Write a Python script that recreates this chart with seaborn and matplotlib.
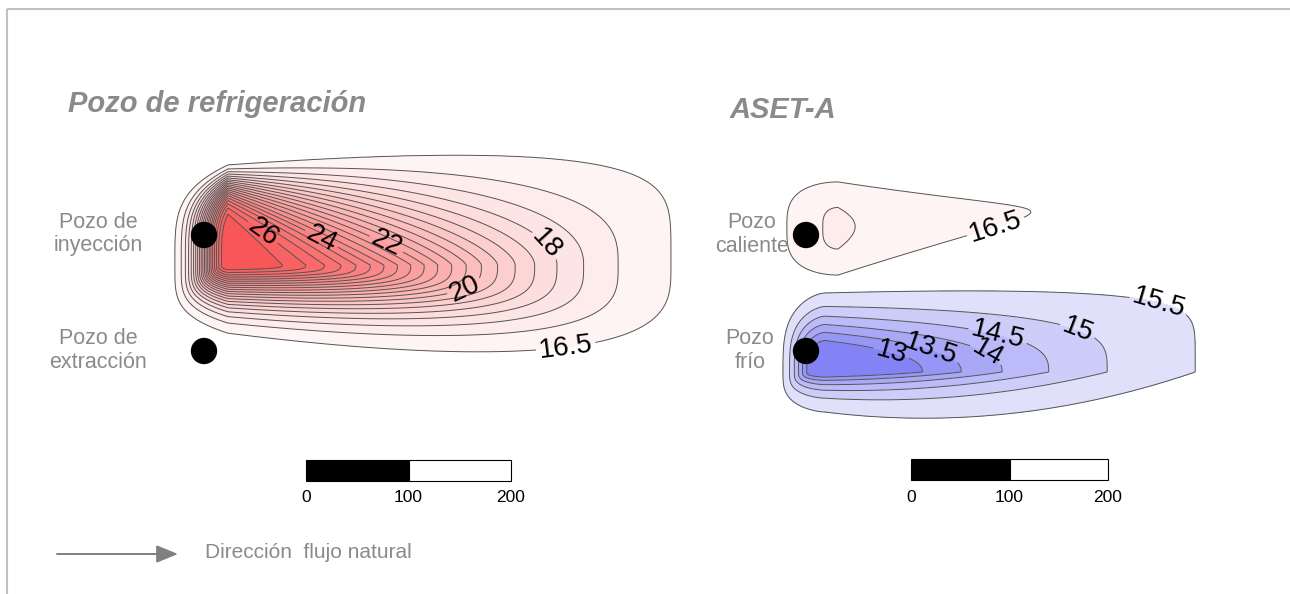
import numpy as np
import matplotlib
matplotlib.use('Agg')
import matplotlib.pyplot as plt
from matplotlib.patches import Rectangle
import seaborn as sns

# ---- data (map drawn in pixel space of the original figure) ----
background_temp = 16.0

hot_levels = [16.5, 17, 17.5, 18, 18.5, 19, 19.5, 20, 20.5, 21, 21.5,
              22, 22.5, 23, 23.5, 24, 24.5, 25, 25.5, 26, 26.5]
hot_peak = 27.0
hot_label_levels = [16.5, 18, 20, 22, 24, 26]
hot_label_xy = [(565, 340), (553, 238), (463, 284), (393, 230), (325, 232), (255, 243)]

warm_levels = [16.5, 17]
warm_peak = 17.07
warm_label_levels = [16.5]
warm_label_xy = [(996, 228)]

cold_levels = [13, 13.5, 14, 14.5, 15, 15.5]
cold_min = 12.03
cold_label_levels = [13, 13.5, 14, 14.5, 15, 15.5]
cold_label_xy = [(890, 357), (932, 345), (985, 357), (1003, 313), (1082, 318), (1158, 308)]

well_x = [204, 204, 806, 806]
well_y = [235, 351, 235, 351]
well_names = [['Pozo de', 'inyección'], ['Pozo de', 'extracción'],
              ['Pozo', 'caliente'], ['Pozo', 'frío']]
well_name_x = [98, 98, 752, 750]

scale_ticks = [0, 100, 200]
scale_left = [306, 911]
scale_px_per_m = [205 / 200, 197 / 200]

# plume geometry: centre, reach left/right, half-height above/below, shape exponents
hot_shape = dict(xc=228, yc=265, a_left=53, a_right=442, b_top=100, b_bottom=68,
                 d_top=3.1, d_bottom=0.79, alpha_left=0.25,
                 alpha_top=([0, 0.35, 1], [1, 1, 0.2]), alpha_bottom=([0, 1], [0.3, 0.3]),
                 widen_top=0.52, widen_bottom=1.12, tilt=0.0)
warm_shape = dict(xc=838, yc=228, a_left=51, a_right=192, b_top=46, b_bottom=47,
                  d_top=3.0, d_bottom=3.0, alpha_left=0.3, gamma_left=2.0,
                  alpha_top=([0, 1], [0.5, 0.5]), alpha_bottom=([0, 1], [0.5, 0.5]),
                  widen_top=-0.48, widen_bottom=-0.48, tilt=-0.083)
cold_shape = dict(xc=825, yc=372, a_left=42, a_right=370, b_top=79, b_bottom=40,
                  d_top=1.45, d_bottom=0.64, alpha_left=0.3, gamma_left=1.6,
                  alpha_top=([0, 0.5, 1], [0.5, 0.4, 0.15]),
                  alpha_bottom=([0, 1], [1.0, 1.0]),
                  widen_top=0.27, widen_bottom=2.15, tilt=0.0)


def plume_radius(X, Y, xc, yc, a_left, a_right, b_top, b_bottom, d_top, d_bottom,
                 alpha_left, alpha_top, alpha_bottom, widen_top, widen_bottom, tilt,
                 gamma_left=1.0):
    dx = X - xc
    right = dx >= 0
    s = np.where(right, dx / a_right, (np.abs(dx) / a_left) ** gamma_left)
    f = np.clip(dx / a_right, 0, 1)
    dy = Y - (yc + tilt * np.clip(dx, 0, None))
    top = dy < 0
    b = np.where(top, b_top * (1 + widen_top * f), b_bottom * (1 + widen_bottom * f))
    v = np.abs(dy) / b
    d = np.where(top, d_top, d_bottom)
    lo, hi = s.copy(), s + 6.0
    for _ in range(45):
        mid = (lo + hi) / 2
        a = np.where(right, np.where(top, np.interp(mid, *alpha_top),
                                     np.interp(mid, *alpha_bottom)), alpha_left)
        val = mid ** (1 / d) * np.clip(1 - s / mid, 0, 1) ** a
        low = val < v
        lo = np.where(low, mid, lo)
        hi = np.where(low, hi, mid)
    return (lo + hi) / 2


sns.set_theme(style='white')
plt.rcParams['font.family'] = ['Liberation Sans', 'DejaVu Sans']

fig = plt.figure(figsize=(12.9, 5.94), dpi=100)
ax = fig.add_axes([0, 0, 1, 1])
ax.set_xlim(0, 1290)
ax.set_ylim(594, 0)
ax.axis('off')

red_cmap = sns.blend_palette(['#ffffff', '#f95757'], as_cmap=True)
blue_cmap = sns.blend_palette(['#e0e0fb', '#8383f5'], as_cmap=True)
line_kw = dict(colors='#555555', linewidths=0.7)
fmt = lambda v: f'{v:g}'


def draw_lines(X, Y, T, levels, label_levels, label_xy, size):
    plain = [lev for lev in levels if lev not in label_levels]
    if plain:
        ax.contour(X, Y, T, levels=plain, **line_kw)
    for lev, pos in zip(label_levels, label_xy):
        cs = ax.contour(X, Y, T, levels=[lev], **line_kw)
        ax.clabel(cs, manual=[pos], fmt=fmt, fontsize=size,
                  colors='black', inline=True, inline_spacing=3)


def red_colors(fill):
    mids = [(a + b) / 2 for a, b in zip(fill[:-1], fill[1:])]
    return [red_cmap((m - background_temp) / (hot_peak - background_temp)) for m in mids]


# hot plume (pozo de refrigeración)
X, Y = np.meshgrid(np.linspace(150, 700, 700), np.linspace(110, 410, 400))
r = plume_radius(X, Y, **hot_shape)
T = background_temp + (hot_peak - background_temp) * np.exp(-(r / 0.57) ** 2)
fill = hot_levels + [hot_peak + 0.5]
ax.contourf(X, Y, T, levels=fill, colors=red_colors(fill))
draw_lines(X, Y, T, hot_levels, hot_label_levels, hot_label_xy, 20)

# warm plume (ASET-A)
X, Y = np.meshgrid(np.linspace(770, 1060, 400), np.linspace(160, 300, 250))
r = plume_radius(X, Y, **warm_shape)
T = background_temp + (warm_peak - background_temp) * np.exp(-r / 1.32)
fill = warm_levels + [17.5]
ax.contourf(X, Y, T, levels=fill, colors=red_colors(fill))
draw_lines(X, Y, T, warm_levels, warm_label_levels, warm_label_xy, 20)

# cold plume (ASET-A)
X, Y = np.meshgrid(np.linspace(760, 1240, 600), np.linspace(270, 440, 300))
r = plume_radius(X, Y, **cold_shape)
T = background_temp - (background_temp - cold_min) * np.exp(-(r ** 1.5) / 0.483)
fill = [cold_min - 1] + cold_levels
n = len(fill) - 1
ax.contourf(X, Y, T, levels=fill, colors=[blue_cmap(1 - i / (n - 1)) for i in range(n)])
draw_lines(X, Y, T, cold_levels, cold_label_levels, cold_label_xy, 20)

# wells
sns.scatterplot(x=well_x, y=well_y, color='black', s=360, edgecolor='none', ax=ax, zorder=5)
for names, nx, wy in zip(well_names, well_name_x, well_y):
    ax.text(nx, wy - 13, names[0], ha='center', va='center', fontsize=15.5, color='#8a8a8a')
    ax.text(nx, wy + 11, names[1], ha='center', va='center', fontsize=15.5, color='#8a8a8a')

# titles
ax.text(68, 112, 'Pozo de refrigeración', fontsize=21, fontweight='bold', fontstyle='italic',
        color='#8a8a8a', va='baseline')
ax.text(730, 118, 'ASET-A', fontsize=21, fontweight='bold', fontstyle='italic',
        color='#8a8a8a', va='baseline')

# scale bars
for x0, k, y0 in zip(scale_left, scale_px_per_m, [460, 459]):
    half = scale_ticks[1] * k
    ax.add_patch(Rectangle((x0, y0), half, 21, facecolor='black', edgecolor='black', lw=0.8))
    ax.add_patch(Rectangle((x0 + half, y0), half, 21, facecolor='white', edgecolor='black', lw=0.8))
    for t in scale_ticks:
        ax.text(x0 + t * k, y0 + 38, str(t), ha='center', va='center', fontsize=12.5,
                family=['Liberation Sans Narrow', 'DejaVu Sans Condensed', 'Liberation Sans'],
                color='black')

# flow direction
ax.annotate('', xy=(178, 554), xytext=(57, 554),
            arrowprops=dict(arrowstyle='-|>,head_length=1.1,head_width=0.45',
                            color='#808080', lw=1.4, shrinkA=0, shrinkB=0))
ax.text(205, 553, 'Dirección  flujo natural', fontsize=15, color='#8a8a8a', va='center')

# frame
ax.plot([7, 1290], [9, 9], color='#c0c0c0', lw=1.5, solid_capstyle='butt')
ax.plot([7, 7], [9, 594], color='#c0c0c0', lw=1.5, solid_capstyle='butt')

fig.savefig('out.png', dpi=100)
